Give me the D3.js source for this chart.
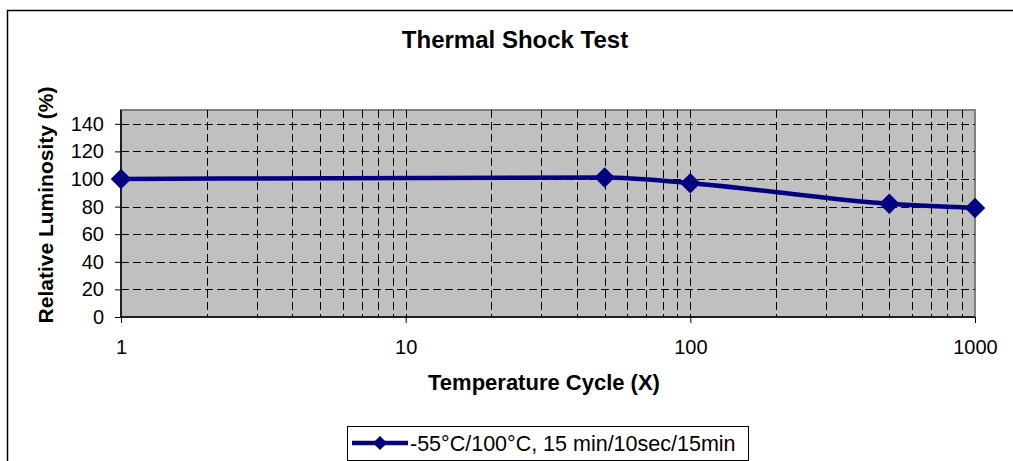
<!DOCTYPE html>
<meta charset="utf-8">
<style>
  body { margin: 0; background: #fff; }
  svg { display: block; font-family: Arial, "Liberation Sans", sans-serif; }
</style>
<svg width="1013" height="461"></svg>
<script src="https://d3js.org/d3.v7.min.js"></script>
<script>

    var cycles = [1, 50, 100, 500, 1000];
    var luminosity = [100, 101, 97, 82, 79];
    var yTicks = [0, 20, 40, 60, 80, 100, 120, 140];
    var xTicks = [1, 10, 100, 1000];
    var seriesName = "-55°C/100°C, 15 min/10sec/15min";

    var svg = d3.select("svg");

    var plotL = 121, plotR = 975, plotT = 110, plotB = 317;

    var x = d3.scaleLog().domain([1, 1000]).range([plotL, plotR]);
    var y = d3.scaleLinear().domain([0, 150]).range([plotB, plotT]);

    // outer chart frame
    svg.append("rect")
        .attr("x", 7.5).attr("y", 10.5)
        .attr("width", 1013).attr("height", 460)
        .attr("fill", "#fff").attr("stroke", "#000").attr("stroke-width", 1.5);

    // plot area
    svg.append("rect")
        .attr("x", plotL).attr("y", plotT)
        .attr("width", plotR - plotL).attr("height", plotB - plotT)
        .attr("fill", "#c0c0c0").attr("stroke", "#808080").attr("stroke-width", 2);

    // vertical grid (major + minor)
    var vgrid = [];
    for (var dec = 1; dec < 1000; dec *= 10) {
        for (var k = 2; k <= 10; k++) vgrid.push(dec * k);
    }
    vgrid = vgrid.filter(function (v) { return v < 1000; });
    svg.append("g").selectAll("line").data(vgrid).enter().append("line")
        .attr("x1", function (d) { return Math.round(x(d)) + 0.5; })
        .attr("x2", function (d) { return Math.round(x(d)) + 0.5; })
        .attr("y1", plotT).attr("y2", plotB)
        .attr("stroke", "#000").attr("stroke-dasharray", "8,4");

    // horizontal grid
    svg.append("g").selectAll("line").data(yTicks.filter(function (d) { return d > 0; })).enter().append("line")
        .attr("y1", function (d) { return Math.round(y(d)) + 0.5; })
        .attr("y2", function (d) { return Math.round(y(d)) + 0.5; })
        .attr("x1", plotL).attr("x2", plotR)
        .attr("stroke", "#000").attr("stroke-dasharray", "8,4");

    // axes
    var yAxis = d3.axisLeft(y).tickValues(yTicks).tickSize(6).tickPadding(11);
    var gy = svg.append("g").attr("transform", "translate(" + plotL + ",0)").call(yAxis);
    var xAxis = d3.axisBottom(x).tickValues(xTicks).tickFormat(d3.format("d")).tickSize(6).tickPadding(17);
    var gx = svg.append("g").attr("transform", "translate(0," + plotB + ")").call(xAxis);
    [gx, gy].forEach(function (g) {
        g.select(".domain").attr("stroke", "#000").attr("stroke-width", 1.5);
        g.selectAll(".tick line").attr("stroke", "#000");
        g.selectAll("text").attr("fill", "#000")
            .style("font-size", "20px").style("font-family", "Arial, 'Liberation Sans', sans-serif");
    });
    gy.select(".domain").attr("d", "M0," + plotT + "V" + plotB);
    gx.select(".domain").attr("d", "M" + plotL + ",0H" + plotR);

    // series line
    var pts = cycles.map(function (c, i) { return [c, luminosity[i]]; });
    var line = d3.line()
        .x(function (d) { return x(d[0]); })
        .y(function (d) { return y(d[1]); })
        .curve(d3.curveMonotoneX);
    svg.append("path").datum(pts)
        .attr("d", line)
        .attr("fill", "none").attr("stroke", "#000080").attr("stroke-width", 4.5);

    var diamond = d3.symbol().type(d3.symbolSquare).size(210);
    svg.append("g").selectAll("path").data(pts).enter().append("path")
        .attr("d", diamond)
        .attr("transform", function (d) { return "translate(" + x(d[0]) + "," + y(d[1]) + ") rotate(45)"; })
        .attr("fill", "#000080");

    // titles
    svg.append("text").attr("x", 515).attr("y", 48)
        .attr("text-anchor", "middle").attr("font-weight", "bold").attr("font-size", 24)
        .text("Thermal Shock Test");
    svg.append("text").attr("x", 544).attr("y", 390)
        .attr("text-anchor", "middle").attr("font-weight", "bold").attr("font-size", 22)
        .text("Temperature Cycle (X)");
    svg.append("text")
        .attr("transform", "translate(53,205) rotate(-90)")
        .attr("text-anchor", "middle").attr("font-weight", "bold").attr("font-size", 21)
        .text("Relative Luminosity (%)");

    // legend
    var lg = svg.append("g");
    lg.append("rect").attr("x", 347.5).attr("y", 426.5).attr("width", 401).attr("height", 34)
        .attr("fill", "#fff").attr("stroke", "#000");
    lg.append("line").attr("x1", 352).attr("x2", 408).attr("y1", 443).attr("y2", 443)
        .attr("stroke", "#000080").attr("stroke-width", 4.5);
    lg.append("path").attr("d", d3.symbol().type(d3.symbolSquare).size(100))
        .attr("transform", "translate(380,443) rotate(45)").attr("fill", "#000080");
    lg.append("text").attr("x", 410).attr("y", 451).attr("font-size", 21.5)
        .text(seriesName);

</script>
